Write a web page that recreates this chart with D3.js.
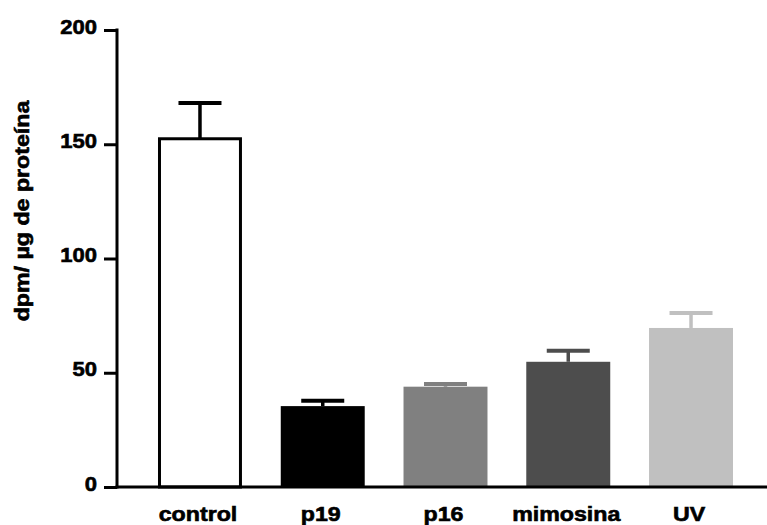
<!DOCTYPE html>
<html>
<head>
<meta charset="utf-8">
<script src="https://cdn.jsdelivr.net/npm/d3@7"></script>
<style>
  html, body { margin: 0; padding: 0; background: #fff; }
  svg { display: block; }
  text { font-family: "Liberation Sans", Arial, sans-serif; font-weight: bold; fill: #000; stroke: #000; stroke-width: 0.6px; }
</style>
</head>
<body>
<svg id="chart" width="767" height="525"></svg>
<script>
const categories = ["control", "p19", "p16", "mimosina", "UV"];
const means = [152.4, 35.4, 43.9, 54.8, 69.6];
const errorTops = [168.1, 37.8, 45.1, 59.6, 76.1];
const fills = ["#ffffff", "#000000", "#808080", "#4d4d4d", "#c0c0c0"];
const errColors = ["#000000", "#000000", "#808080", "#4d4d4d", "#c0c0c0"];
const yTicks = [0, 50, 100, 150, 200];
const yLabel = "dpm/ µg de proteína";

const svg = d3.select("#chart");
const x0 = 117, yBase = 487, yTop = 30;

const y = d3.scaleLinear().domain([0, 200]).range([yBase, yTop]);
const x = d3.scaleBand().domain(categories)
  .range([138.6, 752.4]).paddingInner(0.316).paddingOuter(0.158);

// bars
categories.forEach((c, i) => {
  const bx = x(c), bw = x.bandwidth();
  if (i === 0) {
    svg.append("rect")
      .attr("x", bx + 1.5).attr("y", y(means[i]))
      .attr("width", bw - 3).attr("height", yBase - y(means[i]))
      .attr("fill", fills[i]).attr("stroke", "#000").attr("stroke-width", 3);
  } else {
    svg.append("rect")
      .attr("x", bx).attr("y", y(means[i]))
      .attr("width", bw).attr("height", yBase - y(means[i]))
      .attr("fill", fills[i]);
  }
  const cx = bx + bw / 2;
  const capW = 43;
  svg.append("line")
    .attr("x1", cx).attr("x2", cx)
    .attr("y1", y(means[i])).attr("y2", y(errorTops[i]))
    .attr("stroke", errColors[i]).attr("stroke-width", 3.5);
  svg.append("line")
    .attr("x1", cx - capW / 2).attr("x2", cx + capW / 2)
    .attr("y1", y(errorTops[i])).attr("y2", y(errorTops[i]))
    .attr("stroke", errColors[i]).attr("stroke-width", 4);
});

// y axis
const yAxis = d3.axisLeft(y).tickValues(yTicks).tickSize(13).tickPadding(7).tickSizeOuter(0);
const gy = svg.append("g").attr("transform", `translate(${x0},0)`).call(yAxis);
gy.select(".domain").attr("stroke", "#000").attr("stroke-width", 3)
  .attr("d", `M0,${yTop - 1.5}V${yBase + 1.5}`);
gy.selectAll(".tick line").attr("stroke", "#000").attr("stroke-width", 3);
gy.selectAll(".tick text")
  .attr("dy", null).attr("y", 3)
  .style("font-size", "20px")
  .attr("text-anchor", "end")
  .attr("transform", "scale(1.1,1)")
  .attr("x", -20 / 1.1);

// x axis line
svg.append("line")
  .attr("x1", x0 - 1.5).attr("x2", 767)
  .attr("y1", yBase).attr("y2", yBase)
  .attr("stroke", "#000").attr("stroke-width", 3);

// x labels
categories.forEach(c => {
  svg.append("text")
    .attr("transform", `translate(${x(c) + x.bandwidth() / 2 - 2},521) scale(1.16,1)`)
    .attr("text-anchor", "middle")
    .style("font-size", "20px")
    .text(c);
});

// y label
svg.append("text")
  .attr("transform", "translate(29,211) rotate(-90) scale(1.16,1)")
  .attr("text-anchor", "middle")
  .style("font-size", "20px")
  .text(yLabel);
</script>
</body>
</html>
